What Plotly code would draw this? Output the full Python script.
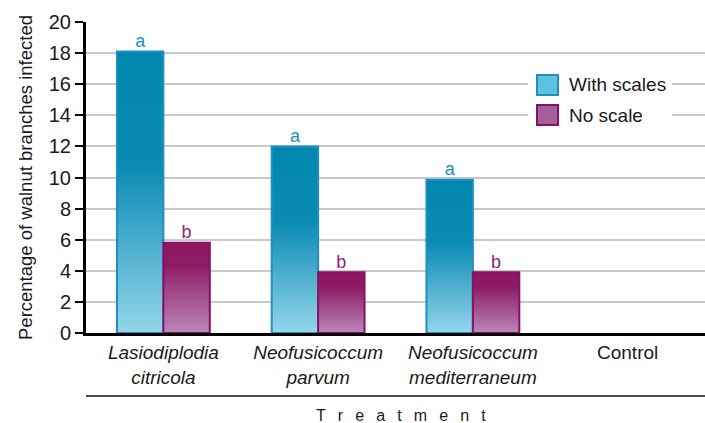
import plotly.graph_objects as go

# ---- data -----------------------------------------------------------------
categories = ["Lasiodiplodia citricola", "Neofusicoccum parvum",
              "Neofusicoccum mediterraneum", "Control"]
tick_labels = ["<i>Lasiodiplodia<br>citricola</i>", "<i>Neofusicoccum<br>parvum</i>",
               "<i>Neofusicoccum<br>mediterraneum</i>", "Control"]
with_scales = [18.1, 12.0, 9.85, 0]
no_scale = [5.8, 3.9, 3.9, 0]
with_letters = ["a", "a", "a", ""]
no_letters = ["b", "b", "b", ""]
series_names = ["With scales", "No scale"]

# ---- styling --------------------------------------------------------------
FONT = "Liberation Sans, Arial, Helvetica, sans-serif"
TXT = "#1a1a1a"
BAR_W = 0.3
TEAL_SCALE = [[0, "#93d6ea"], [0.6, "#0a8ab4"], [1, "#0087b0"]]
PURP_SCALE = [[0, "#bb88b8"], [0.75, "#8e1d66"], [1, "#8a165f"]]
TEAL_LINE = "#1e90c2"
PURP_LINE = "#8a0f6c"
TEAL_TXT = "#1f8fbd"
PURP_TXT = "#8b2478"

W, H = 705, 423
M = dict(l=86, r=0, t=22, b=90)
PW = W - M["l"] - M["r"]
PH = H - M["t"] - M["b"]


def px_x(px):
    return (px - M["l"]) / PW


def px_y(py):
    return (H - M["b"] - py) / PH


fig = go.Figure()


def add_bar(xc, value, offset, scale, line_col):
    if value <= 0:
        return
    x0 = xc + offset
    x1 = x0 + BAR_W
    fig.add_trace(go.Scatter(
        x=[x0, x0, x1, x1, x0], y=[0, value, value, 0, 0],
        mode="lines", fill="toself",
        fillgradient=dict(type="vertical", colorscale=scale, start=0, stop=value),
        line=dict(color=line_col, width=2),
        showlegend=False, hoverinfo="skip"))


for i, cat in enumerate(categories):
    add_bar(i, with_scales[i], -BAR_W, TEAL_SCALE, TEAL_LINE)
    add_bar(i, no_scale[i], 0, PURP_SCALE, PURP_LINE)

# significance letters above the bars
xs = list(range(len(categories)))
fig.add_trace(go.Scatter(
    x=[x - BAR_W / 2 for x in xs], y=with_scales, mode="text", text=with_letters,
    textposition="top center", textfont=dict(family=FONT, size=18, color=TEAL_TXT),
    showlegend=False, hoverinfo="skip"))
fig.add_trace(go.Scatter(
    x=[x + BAR_W / 2 for x in xs], y=no_scale, mode="text", text=no_letters,
    textposition="top center", textfont=dict(family=FONT, size=18, color=PURP_TXT),
    showlegend=False, hoverinfo="skip"))

# ---- legend box ------------------------------------------------------------
shapes = [
    dict(type="rect", xref="paper", yref="paper", x0=px_x(528), x1=px_x(672),
         y0=px_y(130), y1=px_y(70), fillcolor="white", line=dict(width=0), layer="above"),
    dict(type="rect", xref="paper", yref="paper", x0=px_x(537), x1=px_x(558),
         y0=px_y(95), y1=px_y(75), fillcolor="#5ec2df",
         line=dict(color=TEAL_LINE, width=2), layer="above"),
    dict(type="rect", xref="paper", yref="paper", x0=px_x(537), x1=px_x(558),
         y0=px_y(125), y1=px_y(105), fillcolor="#a65e9a",
         line=dict(color=PURP_LINE, width=2), layer="above"),
    # rule above the axis title
    dict(type="line", xref="paper", yref="paper", x0=0, x1=1,
         y0=px_y(396), y1=px_y(396), line=dict(color="#111", width=1.5)),
]

annotations = [
    dict(xref="paper", yref="paper", x=px_x(567), y=px_y(84), text=series_names[0],
         xanchor="left", yanchor="middle", showarrow=False,
         font=dict(family=FONT, size=19, color=TXT)),
    dict(xref="paper", yref="paper", x=px_x(567), y=px_y(115), text=series_names[1],
         xanchor="left", yanchor="middle", showarrow=False,
         font=dict(family=FONT, size=19, color=TXT)),
    dict(xref="paper", yref="paper", x=px_x(401), y=px_y(415),
         text="\u00a0\u00a0\u2009".join("Treatment"),
         xanchor="center", yanchor="middle", showarrow=False,
         font=dict(family=FONT, size=16, color=TXT)),
]

fig.update_layout(
    width=W, height=H, margin=M,
    paper_bgcolor="white", plot_bgcolor="white",
    font=dict(family=FONT, color=TXT),
    shapes=shapes, annotations=annotations,
    showlegend=False,
    xaxis=dict(
        range=[-0.5, 3.5], tickmode="array", tickvals=xs, ticktext=tick_labels,
        showgrid=False, zeroline=False, showline=True, linecolor="black",
        linewidth=3, ticks="", tickfont=dict(family=FONT, size=19, color=TXT),
        fixedrange=True),
    yaxis=dict(
        range=[0, 20], dtick=2, showgrid=True, gridcolor="#c9c9c9", gridwidth=1.5,
        zeroline=False, showline=True, linecolor="black", linewidth=3,
        ticks="outside", ticklen=8, tickwidth=1.5, tickcolor="black",
        tickfont=dict(family=FONT, size=20, color=TXT),
        title=dict(text="Percentage of walnut branches infected",
                   font=dict(family=FONT, size=18.5, color=TXT), standoff=12),
        fixedrange=True),
)

fig.write_html("out.html")
